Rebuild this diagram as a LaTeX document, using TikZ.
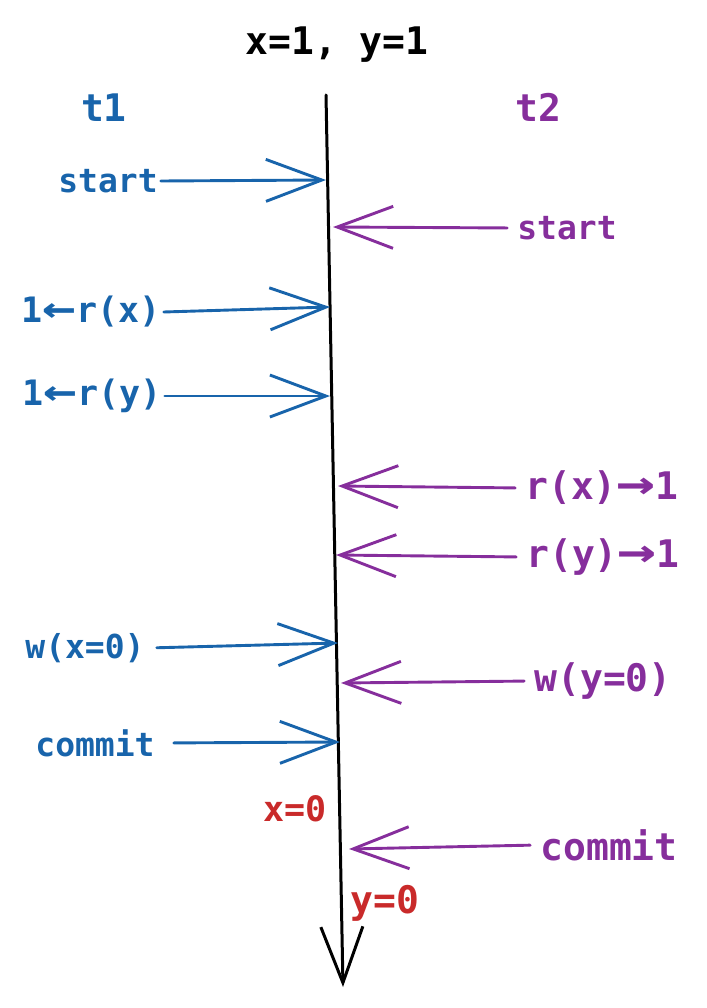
\documentclass[tikz,border=0pt]{standalone}
\usepackage{fontspec}
\usepackage{graphicx}
\setmainfont{DejaVu Sans Mono}
\usetikzlibrary{arrows.meta}
\definecolor{tblue}{HTML}{1864AB}
\definecolor{tpurple}{HTML}{862E9C}
\definecolor{tred}{HTML}{C92A2A}
\newcommand{\valto}{\scalebox{1.7}[1.25]{→}}
\newcommand{\valfrom}{\scalebox{1.6}[1.2]{←}}
\begin{document}
\begin{tikzpicture}[x=1pt,y=-1pt,
    lbl/.style={inner sep=3pt,font=\bfseries\fontsize{33}{36}\selectfont},
    mid/.style={inner sep=3pt,font=\bfseries\fontsize{35}{38}\selectfont},
    big/.style={inner sep=3pt,font=\bfseries\fontsize{38}{40}\selectfont},
    barb/.style={-{Straight Barb[length=56pt,width=42pt]},line width=2.9pt,line cap=round}]
  \useasboundingbox (0,0) rectangle (706,1008);
  \draw
    (337,45) node[big] (vals){x=1, y=1}
    (104,108) node[big,tblue] (t1){t1}
    (538,107) node[big,tpurple] (t2){t2};
  % timeline
  \coordinate (top) at (326,95);
  \coordinate (bot) at (343,987);
  \draw[barb,line width=3pt] (top) to (bot);
  % t1 steps
  \draw
    (108,181) node[lbl,tblue] (s1){start}
    (91,312) node[mid,tblue] (r1){1\valfrom r(x)}
    (92,396) node[mid,tblue] (r2){1\valfrom r(y)}
    (85,648) node[lbl,tblue] (w1){w(x=0)}
    (95,743) node[lbl,tblue] (c1){commit};
  \coordinate (a1) at (326,180);
  \coordinate (a2) at (330,307);
  \coordinate (a3) at (330,396);
  \coordinate (a4) at (338,643);
  \coordinate (a5) at (340,742);
  \begin{scope}[barb,tblue]
    \draw (s1.east) to (a1);
    \draw (r1.east) to (a2);
    \draw (r2.east) to (a3);
    \draw[shorten <=9pt] (w1.east) to (a4);
    \draw[shorten <=16pt] (c1.east) to (a5);
  \end{scope}
  % t2 steps
  \draw
    (567,228) node[lbl,tpurple] (s2){start}
    (602,488) node[big,tpurple] (r3){r(x)\valto 1}
    (603,557) node[big,tpurple] (r4){r(y)\valto 1}
    (603,681) node[big,tpurple] (w2){w(y=0)}
    (609,845) node[big,tpurple] (c2){commit};
  \coordinate (b1) at (333,227);
  \coordinate (b2) at (338,486);
  \coordinate (b3) at (336,555);
  \coordinate (b4) at (341,683);
  \coordinate (b5) at (349,849);
  \begin{scope}[barb,tpurple,shorten <=7pt]
    \draw (s2.west) to (b1);
    \draw (r3.west) to (b2);
    \draw (r4.west) to (b3);
    \draw (w2.west) to (b4);
    \draw (c2.west) to (b5);
  \end{scope}
  % values after commit
  \draw
    (295,809) node[mid,tred] (x0){x=0}
    (385,903) node[big,tred] (y0){y=0};
\end{tikzpicture}
\end{document}
